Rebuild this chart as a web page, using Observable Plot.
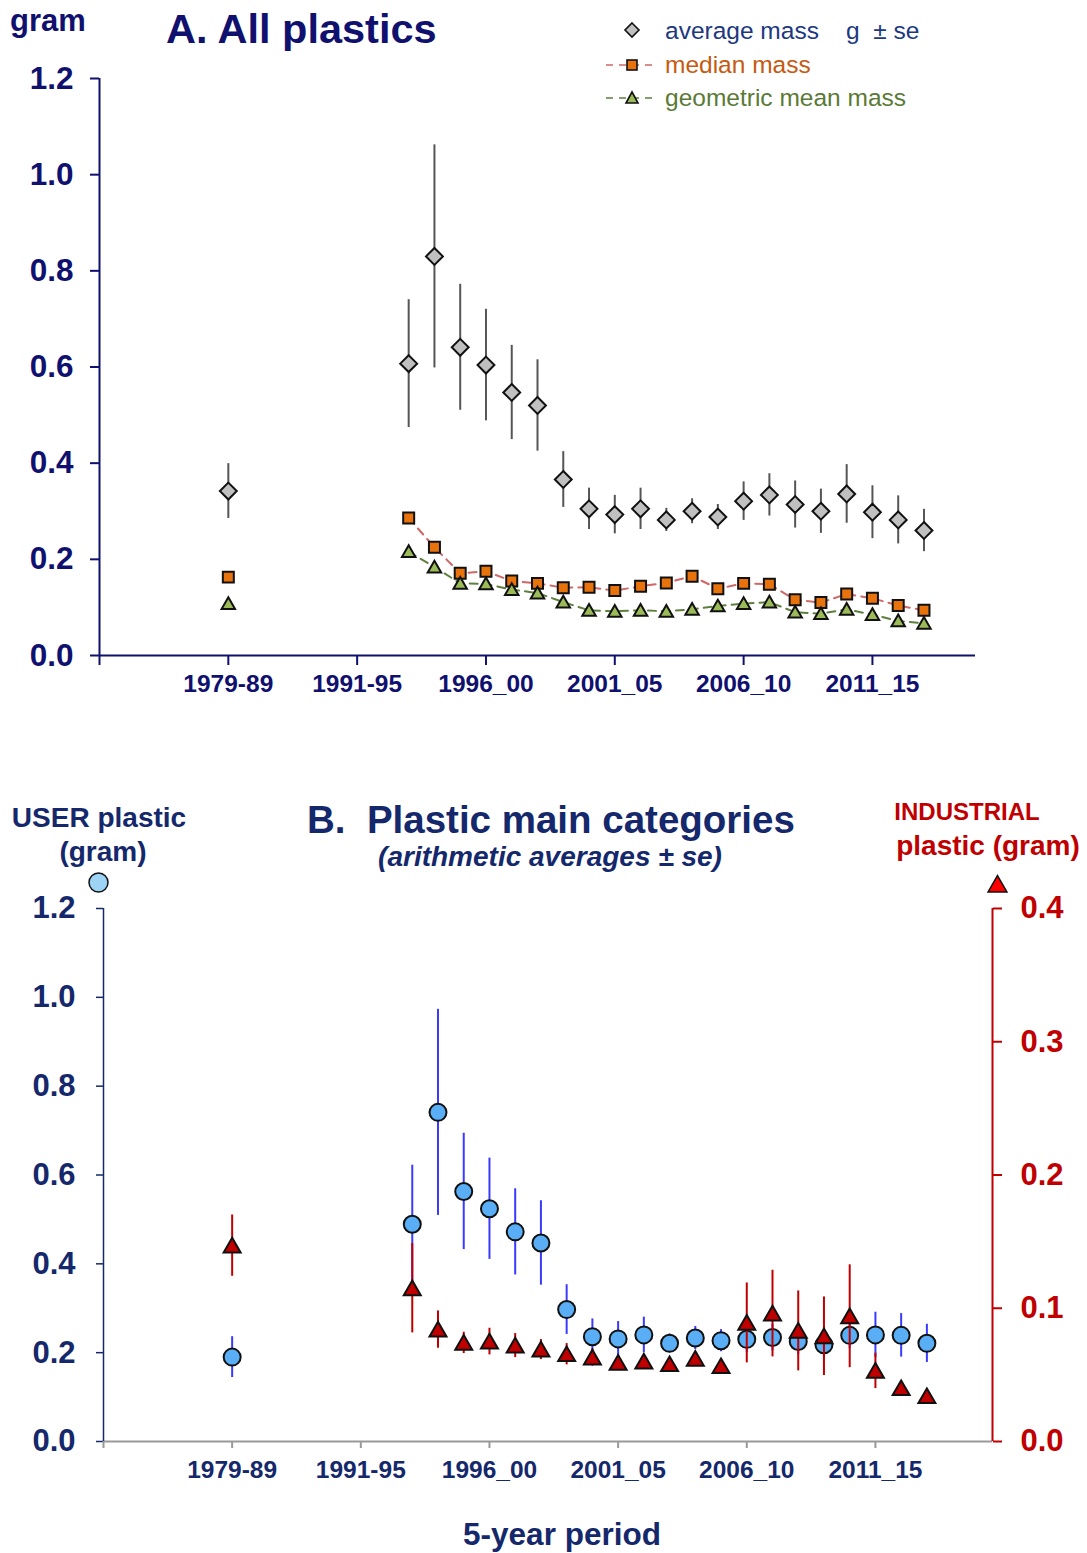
<!DOCTYPE html>
<html><head><meta charset="utf-8">
<script src="https://cdn.jsdelivr.net/npm/d3@7"></script>
<script src="https://cdn.jsdelivr.net/npm/@observablehq/plot@0.6"></script>
<style>
body{margin:0;background:#fff;font-family:"Liberation Sans",Arial,sans-serif;}
#wrap{position:relative;width:1087px;height:1553px;overflow:hidden;}
.t{position:absolute;white-space:pre;line-height:1;font-weight:bold;transform:translateY(-50%);}
.c{transform:translate(-50%,-50%);}
#pa{position:absolute;left:0;top:0;}
#pb{position:absolute;left:0;top:740px;}
.leg{position:absolute;left:600px;width:60px;height:30px;}
</style></head><body><div id="wrap">
<div id="pa"></div>
<div id="pb"></div>
<div class="t" style="left:10px;top:20px;font-size:31px;color:#10106e;">gram</div>
<div class="t" style="left:166px;top:29px;font-size:41.5px;color:#10106e;">A. All plastics</div>
<svg class="leg" style="top:15px" viewBox="0 0 60 30"><path d="M32,8 L39,15 L32,22 L25,15 Z" fill="#c0c0c0" stroke="#111" stroke-width="1.6"/></svg>
<svg class="leg" style="top:50px" viewBox="0 0 60 30"><line x1="6" y1="15" x2="56" y2="15" stroke="#d06868" stroke-width="1.6" stroke-dasharray="7,6"/><rect x="27" y="10" width="10" height="10" fill="#e8730c" stroke="#111" stroke-width="1.6"/></svg>
<svg class="leg" style="top:83px" viewBox="0 0 60 30"><line x1="6" y1="15" x2="56" y2="15" stroke="#5f7f3f" stroke-width="1.6" stroke-dasharray="7,6"/><path d="M32,9 L38,20 L26,20 Z" fill="#9bbb59" stroke="#111" stroke-width="1.6"/></svg>
<div class="t" style="left:665px;top:31px;font-size:24.5px;font-weight:normal;color:#203880;">average mass    g  ± se</div>
<div class="t" style="left:665px;top:65px;font-size:24.5px;font-weight:normal;color:#c55a11;">median mass</div>
<div class="t" style="left:665px;top:98px;font-size:24.5px;font-weight:normal;color:#5a7a35;">geometric mean mass</div>

<div class="t c" style="left:99px;top:818px;font-size:28px;color:#14286b;">USER plastic</div>
<div class="t c" style="left:103px;top:852px;font-size:28px;color:#14286b;">(gram)</div>
<div class="t" style="left:307px;top:820px;font-size:38.5px;color:#14286b;">B.  Plastic main categories</div>
<div class="t c" style="left:550px;top:857px;font-size:28px;font-style:italic;color:#14286b;">(arithmetic averages ± se)</div>
<div class="t c" style="left:967px;top:812px;font-size:24px;color:#c00000;">INDUSTRIAL</div>
<div class="t c" style="left:988px;top:846px;font-size:28px;color:#c00000;">plastic (gram)</div>
<div class="t c" style="left:562px;top:1535px;font-size:31.5px;color:#14286b;">5-year period</div>
</div>
<script>
// x positions (index along the period axis)
const xIndex = [5,12,13,14,15,16,17,18,19,20,21,22,23,24,25,26,27,28,29,30,31,32];
const xTickPos = [5,10,15,20,25,30];
const xTickLabels = ["1979-89","1991-95","1996_00","2001_05","2006_10","2011_15"];

// Panel A: all plastics (gram)
const avgMass = [0.342,0.607,0.830,0.641,0.604,0.547,0.520,0.366,0.305,0.293,0.305,0.282,0.300,0.288,0.321,0.334,0.314,0.300,0.336,0.298,0.282,0.260];
const avgSe   = [0.057,0.133,0.232,0.131,0.116,0.098,0.095,0.058,0.043,0.040,0.043,0.024,0.026,0.026,0.040,0.044,0.049,0.046,0.061,0.055,0.050,0.044];
const medianMass = [0.163,0.286,0.225,0.171,0.175,0.155,0.150,0.141,0.142,0.135,0.144,0.151,0.165,0.139,0.150,0.148,0.116,0.110,0.128,0.119,0.104,0.094];
const geoMass    = [0.108,0.216,0.184,0.150,0.149,0.137,0.130,0.111,0.094,0.092,0.094,0.092,0.096,0.103,0.108,0.111,0.090,0.087,0.096,0.085,0.072,0.067];
const yTicksA = [0,0.2,0.4,0.6,0.8,1.0,1.2];

// Panel B: user plastic (left axis) and industrial plastic (right axis)
const userMass = [0.190,0.489,0.741,0.563,0.524,0.472,0.447,0.297,0.236,0.231,0.240,0.221,0.233,0.227,0.230,0.234,0.225,0.218,0.239,0.240,0.239,0.221];
const userSe   = [0.046,0.133,0.232,0.131,0.114,0.097,0.095,0.056,0.040,0.039,0.040,0.021,0.026,0.025,0.030,0.030,0.030,0.030,0.030,0.051,0.049,0.043];
const indMass  = [0.147,0.115,0.084,0.074,0.075,0.072,0.069,0.0655,0.063,0.059,0.060,0.058,0.062,0.0565,0.089,0.096,0.083,0.079,0.094,0.053,0.040,0.034];
const indSe    = [0.023,0.0335,0.014,0.008,0.010,0.009,0.0075,0.008,0.0065,0.004,0.004,0.003,0.003,0.003,0.030,0.0325,0.030,0.0295,0.0386,0.0133,0.003,0.002];
const yTicksLeftB = [0,0.2,0.4,0.6,0.8,1.0,1.2];
const yTicksRightB = [0,0.1,0.2,0.3,0.4];
const rightToLeft = 1.2/0.4;

const FONT = '"Liberation Sans", Arial, sans-serif';
const NAVY_A = "#10106e";
const NAVY_B = "#14286b";
const RED = "#c00000";
const fmt1 = d3.format(".1f");
const labelOf = p => { const i = xTickPos.indexOf(p); return i < 0 ? "" : xTickLabels[i]; };

const rowsA = xIndex.map((x,i)=>({x, avg:avgMass[i], se:avgSe[i], med:medianMass[i], geo:geoMass[i]}));
const lineA = rowsA.filter(d=>d.x>=12);

const plotA = Plot.plot({
  width:1087, height:710, marginLeft:99, marginRight:112, marginTop:78, marginBottom:55,
  x:{domain:[0,34]}, y:{domain:[0,1.2]},
  style:{fontFamily:FONT, background:"transparent", overflow:"visible"},
  marks:[
    Plot.axisY(yTicksA,{tickFormat:fmt1, tickSize:9, tickPadding:17, fontSize:31.5, fontWeight:"bold", color:NAVY_A, strokeWidth:2, label:null}),
    Plot.axisX([0,...xTickPos],{tickFormat:labelOf, tickSize:10, tickPadding:9, fontSize:24.5, fontWeight:"bold", color:NAVY_A, strokeWidth:2, label:null}),
    Plot.ruleY([0],{stroke:NAVY_A, strokeWidth:2}),
    Plot.ruleX([0],{stroke:NAVY_A, strokeWidth:2}),
    Plot.ruleX(rowsA,{x:"x", y1:d=>d.avg-d.se, y2:d=>d.avg+d.se, stroke:"#555", strokeWidth:2}),
    Plot.dot(rowsA,{x:"x", y:"avg", symbol:"diamond2", r:7.6, fill:"#c0c0c0", stroke:"#111", strokeWidth:2}),
    Plot.line(lineA,{x:"x", y:"med", stroke:"#d06868", strokeWidth:2, strokeDasharray:"8,6"}),
    Plot.line(lineA,{x:"x", y:"geo", stroke:"#5f7f3f", strokeWidth:2, strokeDasharray:"8,6"}),
    Plot.dot(rowsA,{x:"x", y:"med", symbol:"square", r:6.2, fill:"#e8730c", stroke:"#111", strokeWidth:2}),
    Plot.dot(rowsA,{x:"x", y:"geo", symbol:"triangle", r:5, fill:"#9bbb59", stroke:"#111", strokeWidth:2, dy:1.5})
  ]
});
document.getElementById("pa").appendChild(plotA);

const rowsB = xIndex.map((x,i)=>({x, u:userMass[i], us:userSe[i], ind:indMass[i], is:indSe[i]}));

const plotB = Plot.plot({
  width:1087, height:813, marginLeft:103, marginRight:95, marginTop:168, marginBottom:112,
  x:{domain:[0,34.55]}, y:{domain:[0,1.2]},
  style:{fontFamily:FONT, background:"transparent", overflow:"visible"},
  marks:[
    Plot.axisY(yTicksLeftB,{tickFormat:fmt1, tickSize:7, tickPadding:21, fontSize:31, fontWeight:"bold", color:NAVY_B, strokeWidth:1.5, label:null}),
    Plot.axisY(yTicksRightB.map(v=>v*rightToLeft),{anchor:"right", tickFormat:d=>fmt1(d/rightToLeft), tickSize:9, tickPadding:19, fontSize:31, fontWeight:"bold", color:RED, strokeWidth:2, label:null}),
    Plot.axisX([0,...xTickPos],{tickFormat:labelOf, tickSize:7, tickPadding:12, fontSize:24.5, fontWeight:"bold", fill:NAVY_B, stroke:"#999", strokeWidth:2, label:null}),
    Plot.ruleY([0],{stroke:"#999", strokeWidth:2}),
    Plot.ruleX([0],{stroke:NAVY_B, strokeWidth:1.5}),
    Plot.ruleX([34.55],{stroke:RED, strokeWidth:2}),
    Plot.ruleX(rowsB,{x:"x", y1:d=>d.u-d.us, y2:d=>d.u+d.us, stroke:"#3a3aff", strokeWidth:2}),
    Plot.dot(rowsB,{x:"x", y:"u", r:8.5, fill:"#5aaef5", stroke:"#111", strokeWidth:2}),
    Plot.ruleX(rowsB,{x:"x", y1:d=>(d.ind-d.is)*rightToLeft, y2:d=>(d.ind+d.is)*rightToLeft, stroke:RED, strokeWidth:2}),
    Plot.dot(rowsB,{x:"x", y:d=>d.ind*rightToLeft, symbol:"triangle", r:6.3, fill:RED, stroke:"#111", strokeWidth:2, dy:2}),
    Plot.dot([0],{frameAnchor:"top-left", dx:-5, dy:-26, r:9.5, fill:"#9dd3f5", stroke:"#111", strokeWidth:1.5}),
    Plot.dot([0],{frameAnchor:"top-right", dx:5, dy:-22, symbol:"triangle", r:7, fill:"#ff0000", stroke:"#111", strokeWidth:1.5})
  ]
});
document.getElementById("pb").appendChild(plotB);
</script>
</body></html>
